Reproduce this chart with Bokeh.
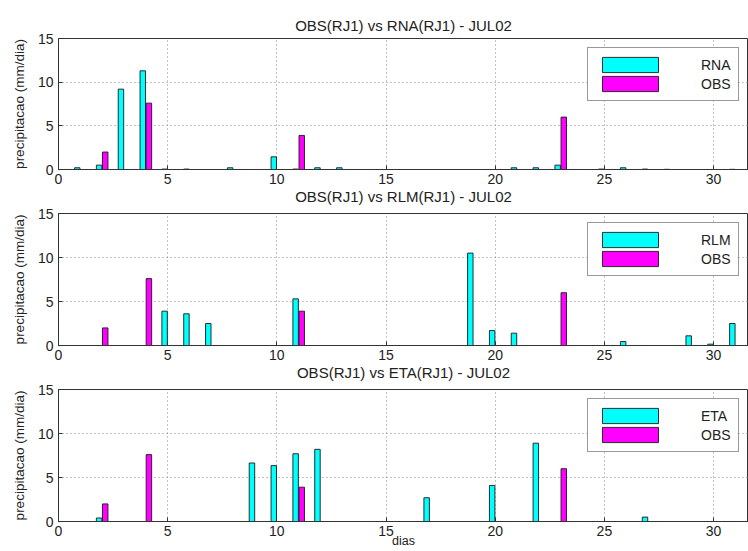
from bokeh.plotting import figure
from bokeh.models import ColumnDataSource, Legend, LegendItem, Title, FixedTicker, Range1d
from bokeh.layouts import column
from bokeh.transform import dodge
from bokeh.embed import file_html
from bokeh.resources import INLINE

days = list(range(1, 32))

obs = [0, 2.0, 0, 7.6, 0, 0, 0, 0, 0, 0, 3.9, 0, 0, 0, 0, 0, 0, 0, 0, 0,
       0, 0, 6.0, 0, 0, 0, 0, 0, 0, 0, 0]
rna = [0.2, 0.5, 9.2, 11.3, 0.05, 0.05, 0, 0.2, 0, 1.45, 0.05, 0.2, 0.2, 0, 0, 0, 0, 0, 0, 0,
       0.2, 0.2, 0.5, 0, 0.05, 0.2, 0.05, 0.02, 0, 0, 0.02]
rlm = [0, 0, 0, 0, 3.9, 3.6, 2.5, 0, 0, 0, 5.3, 0, 0, 0, 0, 0, 0, 0, 10.5, 1.7,
       1.4, 0, 0, 0, 0, 0.45, 0, 0, 1.1, 0.15, 2.5]
eta = [0, 0.4, 0, 0, 0, 0, 0, 0, 6.65, 6.35, 7.7, 8.2, 0, 0, 0, 0, 2.7, 0, 0, 4.1,
       0, 8.9, 0, 0, 0, 0, 0.5, 0, 0, 0, 0]

model_names = ["RNA", "RLM", "ETA"]
model_values = [rna, rlm, eta]
titles = ["OBS(RJ1) vs RNA(RJ1) - JUL02",
          "OBS(RJ1) vs RLM(RJ1) - JUL02",
          "OBS(RJ1) vs ETA(RJ1) - JUL02"]
x_ticks = [0, 5, 10, 15, 20, 25, 30]
y_ticks = [0, 5, 10, 15]

FONT = "Liberation Sans"
CYAN = "#00FFFF"
MAGENTA = "#FF00FF"

# layout: (border top, frame height, border bottom)
geom = [(38, 131, 37), (7, 132, 37), (7, 132, 30)]


def make_title(text, standoff):
    return Title(text=text, align="center", text_font=FONT, text_font_size="15px",
                 text_font_style="normal", text_color="#222222", standoff=standoff)


figs = []
for i, (name, vals) in enumerate(zip(model_names, model_values)):
    bt, fh, bb = geom[i]
    src = ColumnDataSource(dict(day=days, model=vals, obs=obs))
    p = figure(frame_width=690, frame_height=fh, output_backend="svg",
               toolbar_location=None, x_range=Range1d(0, 31.6), y_range=Range1d(0, 15),
               min_border_left=58, min_border_right=0, min_border_top=bt,
               min_border_bottom=bb, background_fill_color="white",
               border_fill_color="white")
    if i == 0:
        p.title = make_title(titles[0], 10)
    else:
        p.title = None
    r1 = p.vbar(x=dodge("day", -0.14), top="model", width=0.25, bottom=0, source=src,
                fill_color=CYAN, line_color="#1a1a1a", line_width=0.9)
    r2 = p.vbar(x=dodge("day", 0.14), top="obs", width=0.25, bottom=0, source=src,
                fill_color=MAGENTA, line_color="#1a1a1a", line_width=0.9)

    for ax in (p.xaxis[0], p.yaxis[0]):
        ax.major_tick_in = 4
        ax.major_tick_out = 0
        ax.minor_tick_in = 0
        ax.minor_tick_out = 0
        ax.axis_line_color = "#333333"
        ax.major_tick_line_color = "#333333"
        ax.major_label_text_font = FONT
        ax.major_label_text_font_size = "14px"
        ax.major_label_text_color = "#222222"
        ax.axis_label_text_font = FONT
        ax.axis_label_text_font_style = "normal"
        ax.axis_label_text_color = "#222222"
    p.xaxis.ticker = FixedTicker(ticks=x_ticks)
    p.yaxis.ticker = FixedTicker(ticks=y_ticks)
    p.xaxis.major_label_standoff = 4
    p.yaxis.major_label_standoff = 5
    p.yaxis.axis_label = "precipitacao (mm/dia)"
    p.yaxis.axis_label_text_font_size = "13.5px"
    p.yaxis.axis_label_standoff = 8
    if i == 2:
        p.xaxis.axis_label = "dias"
        p.xaxis.axis_label_text_font_size = "12.5px"
        p.xaxis.axis_label_standoff = -5
    else:
        # title of the next panel sits just under this panel's tick labels
        p.add_layout(make_title(titles[i + 1], -2), "below")

    p.xgrid.ticker = FixedTicker(ticks=x_ticks)
    p.ygrid.ticker = FixedTicker(ticks=y_ticks)
    for g in (p.xgrid[0], p.ygrid[0]):
        g.grid_line_color = "#888888"
        g.grid_line_dash = "1 3"
        g.grid_line_width = 1
    p.outline_line_color = "#333333"

    legend = Legend(items=[LegendItem(label=name, renderers=[r1]),
                           LegendItem(label="OBS", renderers=[r2])],
                    location="top_right", margin=9, padding=7,
                    glyph_width=70, glyph_height=19, label_height=13,
                    label_standoff=36, label_width=30, spacing=-4,
                    label_text_font=FONT, label_text_font_size="14px",
                    label_text_color="#222222", label_text_line_height=0.9,
                    border_line_color="#333333", border_line_width=1,
                    background_fill_color="white", background_fill_alpha=1)
    p.add_layout(legend, "center")
    figs.append(p)

layout = column(*figs, spacing=0)
open("out.html", "w").write(file_html(layout, INLINE))
